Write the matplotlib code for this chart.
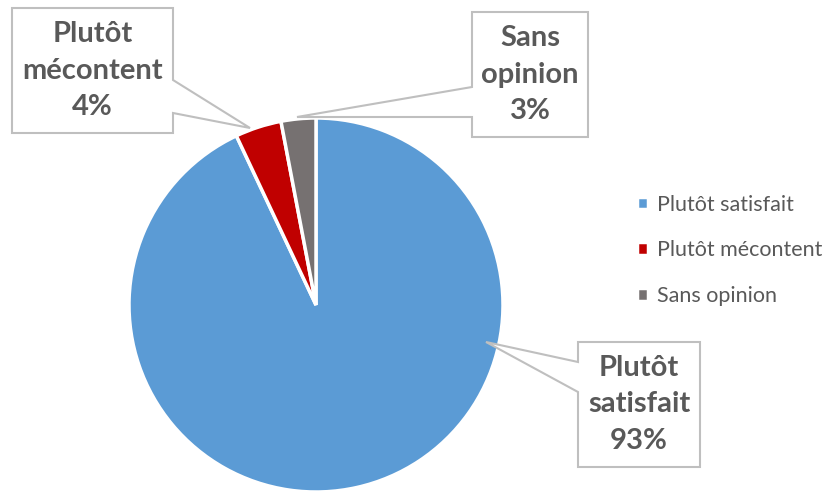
import numpy as np
import matplotlib.pyplot as plt
from matplotlib.patches import Polygon

# data
labels = ["Plutôt satisfait", "Plutôt mécontent", "Sans opinion"]
box_labels = ["Plutôt\nsatisfait\n93%", "Plutôt\nmécontent\n4%", "Sans\nopinion\n3%"]
values = [93, 4, 3]
colors = ["#5B9BD5", "#C00000", "#767171"]

W, H = 825, 494
text_color = "#595959"
plt.rcParams['font.family'] = ['Lato', 'DejaVu Sans']

fig = plt.figure(figsize=(W / 100, H / 100), dpi=100)
ax = fig.add_axes([0, 0, 1, 1])

# pie: pixel coords with y flipped
cx, cy, r = 316, H - 305, 187
wedges, _ = ax.pie(values, colors=colors, startangle=90, counterclock=False,
                   center=(cx, cy), radius=r, frame=True,
                   wedgeprops=dict(edgecolor='white', linewidth=2.5))
ax.set_xlim(0, W)
ax.set_ylim(0, H)
ax.set_aspect('equal')
ax.axis('off')

# callout boxes (left, right, top, bottom in image px), side of wedge, wedge y span, tip
callouts = [
    (578, 700, 342, 467, 'left', (362, 392), (486, 342)),
    (12, 173, 8, 133, 'right', (80, 113), (250, 128)),
    (472, 588, 12, 137, 'left', (87, 117), (297, 117)),
]

for (l, rr, t, b, side, (w0, w1), tip), txt in zip(callouts, box_labels):
    if side == 'left':
        pts = [(l, t), (rr, t), (rr, b), (l, b), (l, w1), tip, (l, w0)]
    else:
        pts = [(l, t), (rr, t), (rr, w0), tip, (rr, w1), (rr, b), (l, b)]
    pts = [(x, H - y) for x, y in pts]
    ax.add_patch(Polygon(pts, closed=True, facecolor='white', edgecolor='#BFBFBF',
                         linewidth=1.5, zorder=5))
    ax.text((l + rr) / 2, H - (t + b) / 2, txt, ha='center', va='center',
            fontsize=21, fontweight='bold', color=text_color, linespacing=1.5, zorder=6)

leg = ax.legend(wedges, labels, loc='upper left', bbox_to_anchor=(628, H - 186),
                bbox_transform=ax.transData, frameon=False, fontsize=15.5,
                handlelength=0.55, handleheight=0.55, handletextpad=0.4,
                labelspacing=1.2, labelcolor=text_color, borderaxespad=0)

fig.savefig("out.png", dpi=100)
